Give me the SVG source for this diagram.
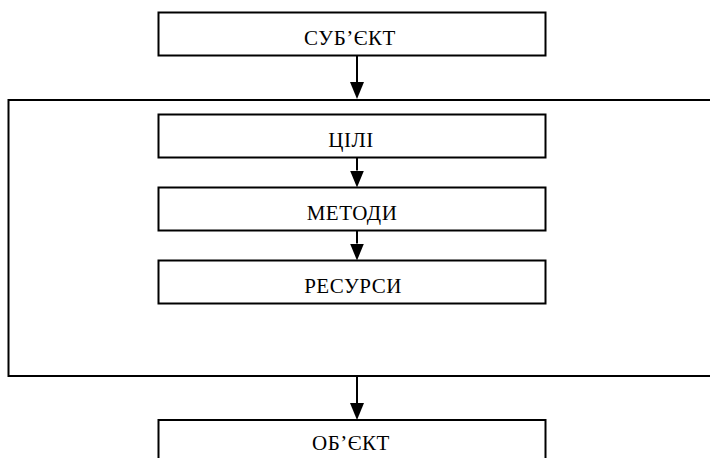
<svg xmlns="http://www.w3.org/2000/svg" width="710" height="458" viewBox="0 0 710 458">
<style>
.box{fill:#fff;stroke:#000;stroke-width:2}
.frame{fill:none;stroke:#000;stroke-width:2}
.lbl{font-family:"Liberation Serif","DejaVu Serif","Times New Roman",serif;font-size:21px;letter-spacing:0.5px;fill:#000;text-anchor:middle}
.conn{stroke:#000;stroke-width:2;fill:none}
</style>
<defs>
<marker id="ah" markerUnits="userSpaceOnUse" markerWidth="17" markerHeight="16" refX="0" refY="8" orient="auto" viewBox="0 0 17 16">
<path d="M0,1 L17,8 L0,15 Z" fill="#000"/>
</marker>
</defs>
<rect width="710" height="458" fill="#fff"/>
<g id="frame"><path class="frame" d="M712,100 H8.5 V376 H712"/></g>
<g id="subject"><rect class="box" x="158.5" y="12.5" width="387" height="43"/><text class="lbl" x="350" y="45">СУБ’ЄКТ</text></g>
<g id="goals"><rect class="box" x="158.5" y="114.5" width="387" height="43"/><text class="lbl" x="351" y="146.5">ЦІЛІ</text></g>
<g id="methods"><rect class="box" x="158.5" y="187.5" width="387" height="43"/><text class="lbl" x="352" y="219.5">МЕТОДИ</text></g>
<g id="resources"><rect class="box" x="158.5" y="260.5" width="387" height="43"/><text class="lbl" x="353" y="292.5">РЕСУРСИ</text></g>
<g id="object"><rect class="box" x="158.5" y="420" width="387" height="50"/><text class="lbl" x="351" y="449.5">ОБ’ЄКТ</text></g>
<g id="connectors">
<path class="conn" d="M357,55.5 V82" marker-end="url(#ah)"/>
<path class="conn" d="M357,157.5 V170.5" marker-end="url(#ah)"/>
<path class="conn" d="M357,230.5 V243.5" marker-end="url(#ah)"/>
<path class="conn" d="M357,376 V403" marker-end="url(#ah)"/>
</g>
</svg>
